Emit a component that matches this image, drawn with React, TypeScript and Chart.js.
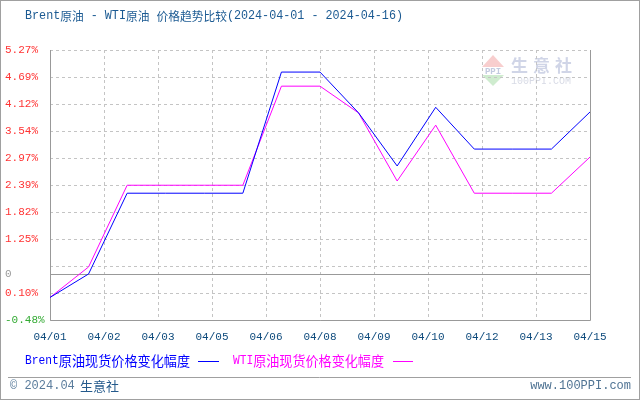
import React, { useEffect, useRef } from "react";
import { Chart, registerables } from "chart.js";

Chart.register(...registerables);

// ---- data ----
const dates = ["04/01","04/02","04/03","04/04","04/05","04/06","04/07","04/08","04/09","04/10","04/11","04/12","04/13","04/14","04/15"];
const brentValues = [0, 0.5, 2.22, 2.22, 2.22, 2.22, 4.8, 4.8, 3.93, 2.8, 4.05, 3.16, 3.16, 3.16, 3.95];
const wtiValues = [0, 0.65, 2.39, 2.39, 2.39, 2.39, 4.5, 4.5, 3.93, 2.48, 3.67, 2.22, 2.22, 2.22, 2.99];

const xTickPositions = [0, 1.4, 2.8, 4.2, 5.6, 7, 8.4, 9.8, 11.2, 12.6, 14];
const xTickLabels = ["04/01","04/02","04/03","04/05","04/06","04/08","04/09","04/10","04/12","04/13","04/15"];

const yTickValues = [-0.48, 0.095, 0.5, 0.67, 1.245, 1.82, 2.395, 2.97, 3.545, 4.12, 4.695, 5.27];
const yTickLabels = ["-0.48%", "0.10%", "0", "", "1.25%", "1.82%", "2.39%", "2.97%", "3.54%", "4.12%", "4.69%", "5.27%"];
const zeroLabel = "0";

const titleText = "Brent原油 - WTI原油 价格趋势比较(2024-04-01 - 2024-04-16)";
const brentLabel = "Brent原油现货价格变化幅度";
const wtiLabel = "WTI原油现货价格变化幅度";
const footerLeft = "© 2024.04 ";
const footerBrand = "生意社";
const footerRight = "www.100PPI.com";

const BLUE = "#0000ff";
const MAGENTA = "#ff00ff";
const MONO = "'Liberation Mono', 'DejaVu Sans Mono', monospace";
const CJK = "'Noto Sans CJK SC', sans-serif";
const CJK_RE = /[\u2E80-\u9FFF\uFF00-\uFFEF]/;

function runsOf(text: string) {
  return text.match(/[\u2E80-\u9FFF\uFF00-\uFFEF]+|[^\u2E80-\u9FFF\uFF00-\uFFEF]+/g) || [];
}
function measureMixed(ctx: CanvasRenderingContext2D, text: string, latin: string, cjk: string) {
  let w = 0;
  for (const r of runsOf(text)) {
    ctx.font = CJK_RE.test(r) ? cjk : latin;
    w += ctx.measureText(r).width;
  }
  return w;
}
// draw mixed-script text, fitted to a target width
function drawMixed(ctx: CanvasRenderingContext2D, text: string, x: number, y: number, latin: string, cjk: string, target?: number) {
  const natural = measureMixed(ctx, text, latin, cjk);
  const s = target ? target / natural : 1;
  ctx.save();
  ctx.translate(x, y);
  ctx.scale(s, 1);
  let cx = 0;
  for (const r of runsOf(text)) {
    ctx.font = CJK_RE.test(r) ? cjk : latin;
    ctx.fillText(r, cx, 0);
    cx += ctx.measureText(r).width;
  }
  ctx.restore();
  return x + natural * s;
}

const decorPlugin = {
  id: "decor",
  beforeDatasetsDraw(chart: any) {
    const { ctx, chartArea, scales } = chart;
    const { left, right, top, bottom } = chartArea;
    const x = scales.x, y = scales.y;
    ctx.save();
    // watermark logo
    ctx.globalAlpha = 0.55;
    ctx.fillStyle = "#f2a6a6";
    ctx.beginPath(); ctx.moveTo(493, 55); ctx.lineTo(504, 67); ctx.lineTo(482, 67); ctx.closePath(); ctx.fill();
    ctx.fillStyle = "#a8dca8";
    ctx.beginPath(); ctx.moveTo(482, 75); ctx.lineTo(504, 75); ctx.lineTo(493, 86); ctx.closePath(); ctx.fill();
    ctx.fillStyle = "#8f9fc4";
    ctx.font = "bold 9px " + MONO;
    ctx.textBaseline = "middle"; ctx.textAlign = "center";
    ctx.fillText("PPI", 493, 71.5);
    ctx.fillStyle = "#a9b3d3";
    ctx.font = "bold 17px " + CJK;
    ctx.textAlign = "left";
    ["生", "意", "社"].forEach((c, i) => ctx.fillText(c, 511 + i * 22, 66));
    ctx.fillStyle = "#b6bccf";
    ctx.font = "10px " + MONO;
    ctx.fillText("100PPI.COM", 511, 81);
    ctx.globalAlpha = 1;

    ctx.lineWidth = 1;
    ctx.strokeStyle = "#c4c4c4";
    ctx.setLineDash([3, 3]);
    y.ticks.forEach((t: any, i: number) => {
      if (yTickLabels[i] === zeroLabel) return;
      const py = Math.round(y.getPixelForValue(t.value)) + 0.5;
      ctx.beginPath(); ctx.moveTo(left, py); ctx.lineTo(right, py); ctx.stroke();
    });
    x.ticks.forEach((t: any) => {
      const px = Math.round(x.getPixelForValue(t.value)) + 0.5;
      ctx.beginPath(); ctx.moveTo(px, top); ctx.lineTo(px, bottom); ctx.stroke();
    });
    ctx.setLineDash([]);
    ctx.strokeStyle = "#999999";
    const zi = yTickLabels.indexOf(zeroLabel);
    const zy = Math.round(y.getPixelForValue(yTickValues[zi])) + 0.5;
    ctx.beginPath(); ctx.moveTo(left, zy); ctx.lineTo(right, zy); ctx.stroke();
    const l = Math.round(left) + 0.5, r = Math.round(right) + 0.5, b = Math.round(bottom) + 0.5;
    ctx.beginPath(); ctx.moveTo(l, top); ctx.lineTo(l, b); ctx.lineTo(r, b); ctx.lineTo(r, top); ctx.stroke();
    ctx.restore();
  },
  afterDraw(chart: any) {
    const { ctx, width, height } = chart;
    ctx.save();
    ctx.textBaseline = "middle";
    ctx.textAlign = "left";
    // title
    ctx.fillStyle = "#1b5a92";
    drawMixed(ctx, titleText, 25, 16, "12px " + MONO, "12px " + CJK, 378);
    // legend
    ctx.lineWidth = 1;
    ctx.fillStyle = BLUE;
    let ex = drawMixed(ctx, brentLabel, 25, 361, "12px " + MONO, "14px " + CJK, 165);
    ctx.strokeStyle = BLUE;
    ctx.beginPath(); ctx.moveTo(ex + 8, 361.5); ctx.lineTo(ex + 29, 361.5); ctx.stroke();
    ctx.fillStyle = MAGENTA;
    ex = drawMixed(ctx, wtiLabel, 233, 361, "12px " + MONO, "14px " + CJK, 151);
    ctx.strokeStyle = MAGENTA;
    ctx.beginPath(); ctx.moveTo(ex + 9, 361.5); ctx.lineTo(ex + 29, 361.5); ctx.stroke();
    // footer separator
    ctx.strokeStyle = "#a0a0a0";
    ctx.beginPath(); ctx.moveTo(8, 377.5); ctx.lineTo(631, 377.5); ctx.stroke();
    // footer texts
    ctx.fillStyle = "#5a7c9c";
    ctx.font = "12px " + MONO;
    ctx.fillText(footerLeft, 10, 386);
    const fx = 10 + ctx.measureText(footerLeft).width;
    ctx.fillStyle = "#245a8c";
    ctx.font = "13px " + CJK;
    ctx.fillText(footerBrand, fx - 2, 386);
    ctx.fillStyle = "#4f7393";
    ctx.font = "12px " + MONO;
    ctx.textAlign = "right";
    ctx.fillText(footerRight, 631, 386);
    // outer border
    ctx.strokeStyle = "#a0a0a0";
    ctx.strokeRect(0.5, 0.5, width - 1, height - 1);
    ctx.restore();
  },
};

export default function App() {
  const ref = useRef<HTMLCanvasElement>(null);
  useEffect(() => {
    document.body.style.margin = "0";
    const canvas = ref.current!;
    const toPoints = (vals: number[]) => vals.map((v, i) => ({ x: dates.indexOf(dates[i]), y: v }));
    const chart = new Chart(canvas, {
      type: "line",
      data: {
        datasets: [
          { label: brentLabel, data: toPoints(brentValues), borderColor: BLUE, backgroundColor: BLUE, borderWidth: 1, pointRadius: 0, tension: 0, fill: false },
          { label: wtiLabel, data: toPoints(wtiValues), borderColor: MAGENTA, backgroundColor: MAGENTA, borderWidth: 1, pointRadius: 0, tension: 0, fill: false },
        ],
      },
      options: {
        animation: false,
        responsive: false,
        devicePixelRatio: 1,
        layout: { padding: { left: 5, right: 50, top: 50, bottom: 0 } },
        plugins: { legend: { display: false }, tooltip: { enabled: false }, title: { display: false } },
        scales: {
          x: {
            type: "linear",
            min: 0,
            max: dates.length - 1,
            grid: { display: false, drawTicks: false },
            border: { display: false },
            afterBuildTicks: (s: any) => { s.ticks = xTickPositions.map((v) => ({ value: v })); },
            afterFit: (s: any) => { s.height = 80; },
            ticks: {
              autoSkip: false,
              maxRotation: 0,
              padding: 10,
              color: "#0d4a7c",
              font: { family: MONO, size: 11 },
              callback: (_v: any, i: number) => xTickLabels[i],
            },
          },
          y: {
            type: "linear",
            position: "left",
            min: yTickValues[0],
            max: yTickValues[yTickValues.length - 1],
            grid: { display: false, drawTicks: false },
            border: { display: false },
            afterBuildTicks: (s: any) => { s.ticks = yTickValues.map((v) => ({ value: v })); },
            afterFit: (s: any) => { s.width = 45; },
            ticks: {
              autoSkip: false,
              crossAlign: "far",
              padding: 0,
              font: { family: MONO, size: 11 },
              color: (c: any) => {
                const lab = yTickLabels[c.index];
                if (lab === zeroLabel) return "#999999";
                if (lab.startsWith("-")) return "#33aa33";
                return "#ff3333";
              },
              callback: (_v: any, i: number) => yTickLabels[i],
            },
          },
        },
      } as any,
      plugins: [decorPlugin],
    });
    return () => chart.destroy();
  }, []);
  return <canvas ref={ref} width={640} height={400} style={{ display: "block" }} />;
}
